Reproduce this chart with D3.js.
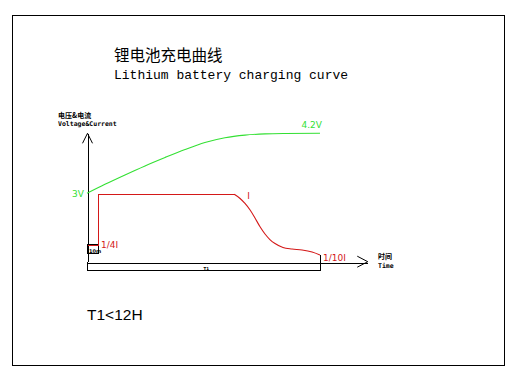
<!DOCTYPE html>
<html>
<head>
<meta charset="utf-8">
<script src="https://cdn.jsdelivr.net/npm/d3@7"></script>
<style>
html,body{margin:0;padding:0;background:#fff;}
svg{display:block;}
</style>
</head>
<body>
<svg id="c" width="527" height="385"></svg>
<script>
// ---- data (time as % of T1, voltage in V, current as fraction of I) ----
const voltageTime  = [0, 7.7, 16.3, 24.9, 33.5, 42.1, 50.6, 59.2, 67.8, 76.4, 85.0, 100];
const voltageValue = [3.0, 3.18, 3.368, 3.548, 3.716, 3.876, 4.016, 4.112, 4.164, 4.188, 4.196, 4.2];
const currentTime  = [0, 4.7, 4.7, 63.2, 65.7, 67.8, 70.0, 72.1, 74.2, 76.4, 78.5, 80.7, 84.1, 88.0, 92.3, 96.6, 100];
const currentValue = [0.25, 0.25, 1, 1, 0.938, 0.864, 0.767, 0.648, 0.522, 0.411, 0.329, 0.27, 0.211, 0.188, 0.174, 0.144, 0.1];
const voltageLabels = ["3V", "4.2V"];
const currentLabels = ["1/4I", "I", "1/10I"];
const titleCN = "锂电池充电曲线";
const titleEN = "Lithium battery charging curve";
const yLabelCN = "电压&电流";
const yLabelEN = "Voltage&Current";
const xLabelCN = "时间";
const xLabelEN = "Time";
const note = "T1<12H";

const svg = d3.select("#c");
const green = "#33e033", red = "#d41818";

// frame
svg.append("rect").attr("x",12.5).attr("y",15.5).attr("width",491.5).attr("height",349.5)
  .attr("fill","none").attr("stroke","#000").attr("stroke-width",1).attr("shape-rendering","crispEdges");

// scales
const x = d3.scaleLinear().domain([0,100]).range([87,320]);
const yV = d3.scaleLinear().domain([3,4.2]).range([193.3,133.3]);
const yI = d3.scaleLinear().domain([0,1]).range([261.7,194.3]);

// axes (lines only)
const xAxisScale = x.copy().domain([0,120.5]).range([x(0), x(120.5)]);
svg.append("g").attr("transform",`translate(0,${Math.round(yI(0))+0.5})`)
  .call(d3.axisBottom(xAxisScale).tickValues([]).tickSizeOuter(0))
  .call(g=>g.select(".domain").attr("stroke","#000").attr("shape-rendering","crispEdges"));
const yAxisScale = yI.copy().domain([0, yI.invert(yV(4.2))]).range([yI(0), yV(4.2)]);
svg.append("g").attr("transform",`translate(${x(0)+0.5},0)`)
  .call(d3.axisLeft(yAxisScale).tickValues([]).tickSizeOuter(0))
  .call(g=>g.select(".domain").attr("stroke","#000").attr("shape-rendering","crispEdges"));

// arrowheads
const xe = xAxisScale(120.5), ya = yI(0);
svg.append("path").attr("d",`M${xe-10.5},${ya-5.5}L${xe},${ya}L${xe-10.5},${ya+5.5}`)
  .attr("fill","none").attr("stroke","#000");
const yt = yV(4.2), xa = x(0)+0.5;
svg.append("path").attr("d",`M${xa-5},${yt+10}L${xa},${yt}L${xa+5},${yt+10}`)
  .attr("fill","none").attr("stroke","#000");

// bracket T1
const yb = Math.round(yI(0))+8.5;
svg.append("path").attr("d",`M${x(0)+0.5},${ya}V${yb}H${x(100)+0.5}V${yI(0.1)}`)
  .attr("fill","none").attr("stroke","#000").attr("shape-rendering","crispEdges");
svg.append("text").attr("x",x(50)).attr("y",yb-0.5).attr("font-family","DejaVu Sans")
  .attr("font-size",4).attr("font-weight","bold").text("T1");

// precharge box
svg.append("rect").attr("x",x(0)+0.5).attr("y",yI(0.25)).attr("width",x(4.7)-x(0)).attr("height",yI(0.1)-yI(0.25)-1.5)
  .attr("fill","none").attr("stroke","#000").attr("shape-rendering","crispEdges");
svg.append("text").attr("x",x(0)+2).attr("y",yI(0.1)-2).attr("font-family","DejaVu Sans")
  .attr("font-size",5).attr("font-weight","bold").text("10m");

// voltage curve
const vData = voltageTime.map((t,i)=>({t, v: voltageValue[i]}));
svg.append("path").datum(vData)
  .attr("d", d3.line().x(d=>x(d.t)).y(d=>yV(d.v)).curve(d3.curveMonotoneX))
  .attr("fill","none").attr("stroke",green).attr("stroke-width",1.1);

// current curve
const iData = currentTime.map((t,i)=>({t, c: currentValue[i]}));
const flatEnd = 3;
svg.append("path").datum(iData.slice(0, flatEnd+1))
  .attr("d", d3.line().x(d=>Math.round(x(d.t))+0.5).y(d=>Math.round(yI(d.c))+0.5))
  .attr("fill","none").attr("stroke",red).attr("stroke-width",1).attr("shape-rendering","crispEdges");
svg.append("path").datum(iData.slice(flatEnd))
  .attr("d", d3.line().x(d=>x(d.t)).y(d=>yI(d.c)).curve(d3.curveMonotoneX))
  .attr("fill","none").attr("stroke",red).attr("stroke-width",1.1);

// labels
const lab = (txt,px,py,col,size,anchor,fam,weight)=>svg.append("text").attr("x",px).attr("y",py)
  .attr("fill",col).attr("font-size",size).attr("text-anchor",anchor||"start")
  .attr("font-family",fam||"DejaVu Sans").attr("font-weight",weight||"normal").text(txt);

lab(voltageLabels[0], x(0)-3, yV(3)+4, green, 9, "end");
lab(voltageLabels[1], x(100)+2, yV(4.2)-5.5, green, 9, "end");
lab(currentLabels[0], x(4.7)+3, yI(0.25)+3.5, red, 9, "start");
lab(currentLabels[1], x(68.8), yI(1)+5, red, 9, "start");
lab(currentLabels[2], x(100)+3, yI(0.1)+6, red, 9, "start");

lab(titleCN, 114, 61, "#000", 15.5, "start", "Noto Sans CJK SC");
lab(titleEN, 114, 79, "#000", 13, "start", "Liberation Mono");
lab(yLabelCN, 58, 118, "#000", 7, "start", "Noto Sans CJK SC", "bold");
lab(yLabelEN, 58, 126, "#000", 6.5, "start", "DejaVu Sans Mono", "bold");
lab(xLabelCN, 378, 259, "#000", 7, "start", "Noto Sans CJK SC", "bold");
lab(xLabelEN, 378, 268, "#000", 6.5, "start", "DejaVu Sans Mono", "bold");
lab(note, 87, 320, "#000", 15.5, "start", "Liberation Sans", "normal");
</script>
</body>
</html>
